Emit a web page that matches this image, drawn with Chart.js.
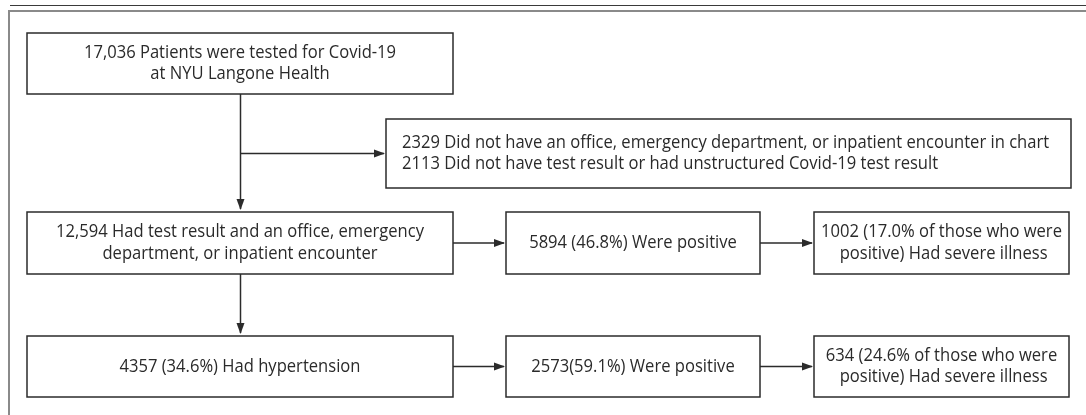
<!DOCTYPE html>
<html>
<head>
<meta charset="utf-8">
<script src="https://cdn.jsdelivr.net/npm/chart.js@4.4.1/dist/chart.umd.min.js"></script>
<style>
  html, body { margin: 0; padding: 0; background: #ffffff; }
  #wrap { width: 1086px; height: 415px; }
</style>
</head>
<body>
<div id="wrap"><canvas id="c" width="1086" height="415"></canvas></div>
<script>
// ---- Data: flowchart node texts (counts and percentages as in the figure) ----
const nodeIds = ["tested", "excluded", "eligible", "eligPos", "eligSevere", "htn", "htnPos", "htnSevere"];
const nodeCounts = [17036, null, 12594, 5894, 1002, 4357, 2573, 634];
const excludedCounts = [2329, 2113];
const nodePercents = [null, null, null, 46.8, 17.0, 34.6, 59.1, 24.6];
const nodeLines = [
  ["17,036 Patients were tested for Covid-19", "at NYU Langone Health"],
  ["2329 Did not have an office, emergency department, or inpatient encounter in chart",
   "2113 Did not have test result or had unstructured Covid-19 test result"],
  ["12,594 Had test result and an office, emergency", "department, or inpatient encounter"],
  ["5894 (46.8%) Were positive"],
  ["1002 (17.0% of those who were", " positive) Had severe illness"],
  ["4357 (34.6%) Had hypertension"],
  ["2573(59.1%) Were positive"],
  ["634 (24.6% of those who were", " positive) Had severe illness"]
];
// edges: from node -> to node
const edgeFrom = ["tested", "tested", "eligible", "eligPos", "eligible", "htn", "htnPos"];
const edgeTo   = ["eligible", "excluded", "eligPos", "eligSevere", "htn", "htnPos", "htnSevere"];

// ---- Layout (positions in figure units, kept separate from data) ----
const layout = {
  tested:     { x0: 27,  y0: 33,  x1: 453,  y1: 94,  align: "center" },
  excluded:   { x0: 386, y0: 119, x1: 1071, y1: 188, align: "left", pad: 16 },
  eligible:   { x0: 27,  y0: 212, x1: 453,  y1: 274, align: "center" },
  eligPos:    { x0: 506, y0: 212, x1: 760,  y1: 274, align: "center" },
  eligSevere: { x0: 814, y0: 212, x1: 1069, y1: 274, align: "center" },
  htn:        { x0: 27,  y0: 336, x1: 453,  y1: 397, align: "center" },
  htnPos:     { x0: 506, y0: 336, x1: 760,  y1: 397, align: "center" },
  htnSevere:  { x0: 814, y0: 336, x1: 1069, y1: 397, align: "center" }
};
const trunkX = 240.5;
const branchY = 153.5;

const FONT_FAMILY = "'Open Sans', 'Noto Sans', sans-serif";
const TEXT_COLOR = "#2a2a2a";
const LINE_COLOR = "#2b2b2b";
const TEXT_VSCALE = 1.08;

const flowPlugin = {
  id: "flow",
  afterDraw(chart) {
    const ctx = chart.ctx;
    const sx = chart.scales.x, sy = chart.scales.y;
    const X = v => sx.getPixelForValue(v);
    const Y = v => sy.getPixelForValue(v);

    // fit font size so the reference line matches its measured width
    ctx.save();
    ctx.font = "100px " + FONT_FAMILY;
    const refW = ctx.measureText(nodeLines[2][0]).width;
    const fontSize = Math.max(12, Math.min(18, 100 * 368 / refW));
    ctx.restore();

    ctx.save();
    // page frame
    ctx.strokeStyle = "#3a3a3a";
    ctx.lineWidth = 1.2;
    ctx.beginPath(); ctx.moveTo(X(10), Y(5.5)); ctx.lineTo(X(1086), Y(5.5)); ctx.stroke();
    ctx.strokeStyle = "#8a8a8a";
    ctx.lineWidth = 2;
    ctx.beginPath(); ctx.moveTo(X(8), Y(11)); ctx.lineTo(X(1086), Y(11)); ctx.stroke();
    ctx.beginPath(); ctx.moveTo(X(9), Y(10)); ctx.lineTo(X(9), Y(415)); ctx.stroke();

    // boxes
    ctx.strokeStyle = LINE_COLOR;
    ctx.lineWidth = 1.5;
    const lineH = 21.5;
    nodeIds.forEach((id, i) => {
      const b = layout[id];
      ctx.strokeRect(X(b.x0), Y(b.y0), X(b.x1) - X(b.x0), Y(b.y1) - Y(b.y0));
      const lines = nodeLines[i];
      const cy = (Y(b.y0) + Y(b.y1)) / 2;
      const startY = cy - (lines.length - 1) * lineH / 2;
      lines.forEach((t, k) => {
        const ty = startY + k * lineH;
        const tx = b.align === "left" ? X(b.x0) + b.pad : (X(b.x0) + X(b.x1)) / 2;
        ctx.save();
        ctx.translate(tx, ty);
        ctx.scale(1, TEXT_VSCALE);
        ctx.fillStyle = TEXT_COLOR;
        ctx.font = fontSize + "px " + FONT_FAMILY;
        ctx.textBaseline = "middle";
        ctx.textAlign = b.align === "left" ? "left" : "center";
        ctx.fillText(t, 0, 0);
        ctx.restore();
      });
    });

    // arrows
    function head(tx, ty, dir) {
      const L = 11, W = 4;
      ctx.beginPath();
      if (dir === "down") {
        ctx.moveTo(tx, ty); ctx.lineTo(tx - W, ty - L); ctx.lineTo(tx + W, ty - L);
      } else {
        ctx.moveTo(tx, ty); ctx.lineTo(tx - L, ty - W); ctx.lineTo(tx - L, ty + W);
      }
      ctx.closePath(); ctx.fillStyle = LINE_COLOR; ctx.fill();
    }
    ctx.lineWidth = 1.5;
    ctx.strokeStyle = LINE_COLOR;
    edgeFrom.forEach((f, i) => {
      const a = layout[f], b = layout[edgeTo[i]];
      if (edgeTo[i] === "excluded") {
        ctx.beginPath(); ctx.moveTo(X(trunkX), Y(branchY)); ctx.lineTo(X(b.x0) - 2, Y(branchY)); ctx.stroke();
        head(X(b.x0) - 1, Y(branchY), "right");
      } else if (b.y0 > a.y1) {
        ctx.beginPath(); ctx.moveTo(X(trunkX), Y(a.y1)); ctx.lineTo(X(trunkX), Y(b.y0) - 3); ctx.stroke();
        head(X(trunkX), Y(b.y0) - 2, "down");
      } else {
        const yy = Y((a.y0 + a.y1) / 2);
        ctx.beginPath(); ctx.moveTo(X(a.x1), yy); ctx.lineTo(X(b.x0) - 2, yy); ctx.stroke();
        head(X(b.x0) - 1, yy, "right");
      }
    });
    ctx.restore();
  }
};

new Chart(document.getElementById("c"), {
  type: "scatter",
  data: { datasets: [{ data: [], pointRadius: 0 }] },
  options: {
    responsive: false,
    animation: false,
    layout: { padding: 0 },
    plugins: { legend: { display: false }, tooltip: { enabled: false } },
    scales: {
      x: { type: "linear", min: 0, max: 1086, display: false },
      y: { type: "linear", min: 0, max: 415, reverse: true, display: false }
    }
  },
  plugins: [flowPlugin]
});
</script>
</body>
</html>
